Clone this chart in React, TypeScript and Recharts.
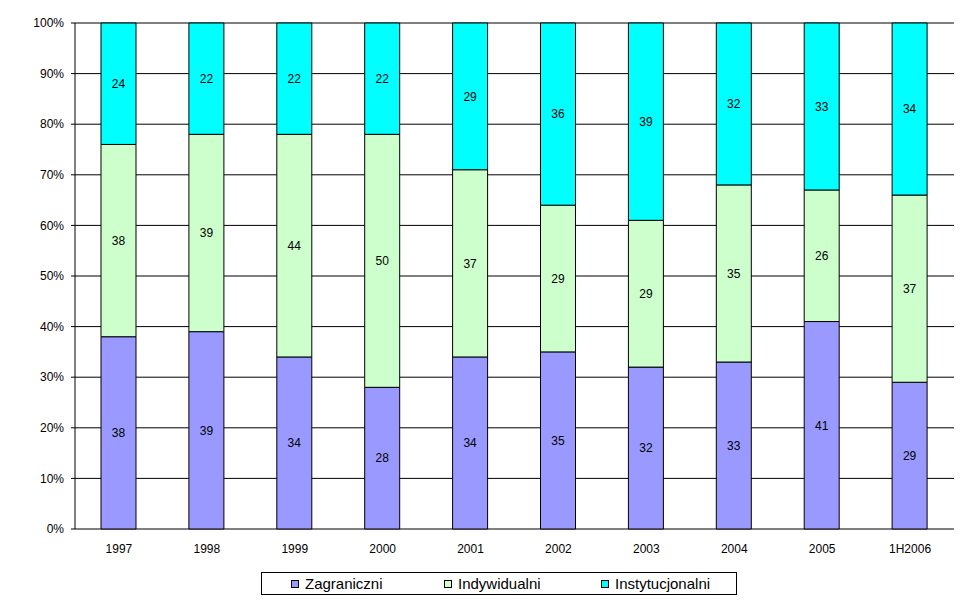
import React from "react";
import {
  BarChart,
  Bar,
  XAxis,
  YAxis,
  CartesianGrid,
  Legend,
  LabelList,
} from "recharts";

const categories = ["1997", "1998", "1999", "2000", "2001", "2002", "2003", "2004", "2005", "1H2006"];
const zagraniczni = [38, 39, 34, 28, 34, 35, 32, 33, 41, 29];
const indywidualni = [38, 39, 44, 50, 37, 29, 29, 35, 26, 37];
const instytucjonalni = [24, 22, 22, 22, 29, 36, 39, 32, 33, 34];
const yTicks = [0, 10, 20, 30, 40, 50, 60, 70, 80, 90, 100];
const boundaryTicks = [0, 1, 2, 3, 4, 5, 6, 7, 8, 9, 10];

const seriesNames = ["Zagraniczni", "Indywidualni", "Instytucjonalni"];
const seriesColors = ["#9999FF", "#CCFFCC", "#00FFFF"];

const data = categories.map((c, i) => ({
  name: c,
  Zagraniczni: zagraniczni[i],
  Indywidualni: indywidualni[i],
  Instytucjonalni: instytucjonalni[i],
}));

const FONT = "'Liberation Sans', Arial, sans-serif";

const LegendBox = () => (
  <div
    style={{
      width: 476,
      height: 23,
      border: "1px solid #000",
      background: "#fff",
      display: "flex",
      alignItems: "center",
      fontFamily: FONT,
      fontSize: 15,
      color: "#000",
      paddingLeft: 29,
      boxSizing: "border-box",
    }}
  >
    {seriesNames.map((n, i) => (
      <div
        key={n}
        style={{
          display: "flex",
          alignItems: "center",
          width: i === 0 ? 153 : i === 1 ? 157 : "auto",
        }}
      >
        <span
          style={{
            display: "inline-block",
            width: 6,
            height: 6,
            border: "1px solid #000",
            background: seriesColors[i],
            marginRight: 6,
          }}
        />
        <span>{n}</span>
      </div>
    ))}
  </div>
);

export default function App() {
  return (
    <div style={{ position: "absolute", left: 0, top: 0, width: 970, height: 604, background: "#fff" }}>
      <BarChart
        width={970}
        height={604}
        data={data}
        margin={{ top: 23, right: 16, left: 0, bottom: 22 }}
        barSize={35}
        style={{ fontFamily: FONT }}
      >
        <CartesianGrid vertical={false} stroke="#000" strokeWidth={1} />
        <XAxis
          xAxisId="bounds"
          type="number"
          dataKey={() => 0}
          domain={[0, 10]}
          ticks={boundaryTicks}
          allowDataOverflow
          height={0}
          tick={false}
          tickSize={6}
          tickLine={{ stroke: "#000" }}
          axisLine={{ stroke: "#000" }}
        />
        <XAxis
          dataKey="name"
          height={30}
          tickLine={false}
          axisLine={false}
          tick={{ fill: "#000", fontSize: 12, fontFamily: FONT }}
          tickMargin={9}
          interval={0}
        />
        <YAxis
          type="number"
          domain={[0, 100]}
          ticks={yTicks}
          width={75}
          tickFormatter={(v: number) => `${v}%`}
          tick={{ fill: "#000", fontSize: 12, fontFamily: FONT }}
          tickSize={4}
          tickMargin={7}
          tickLine={{ stroke: "#000" }}
          axisLine={{ stroke: "#000" }}
        />
        <Legend
          content={<LegendBox />}
          wrapperStyle={{ left: 261, top: 572, width: 476 }}
          verticalAlign="bottom"
        />
        {seriesNames.map((n, i) => (
          <Bar
            key={n}
            dataKey={n}
            stackId="a"
            fill={seriesColors[i]}
            stroke="#000"
            strokeWidth={1}
            isAnimationActive={false}
          >
            <LabelList dataKey={n} position="center" fill="#000" fontSize={12} fontFamily={FONT} />
          </Bar>
        ))}
      </BarChart>
    </div>
  );
}
